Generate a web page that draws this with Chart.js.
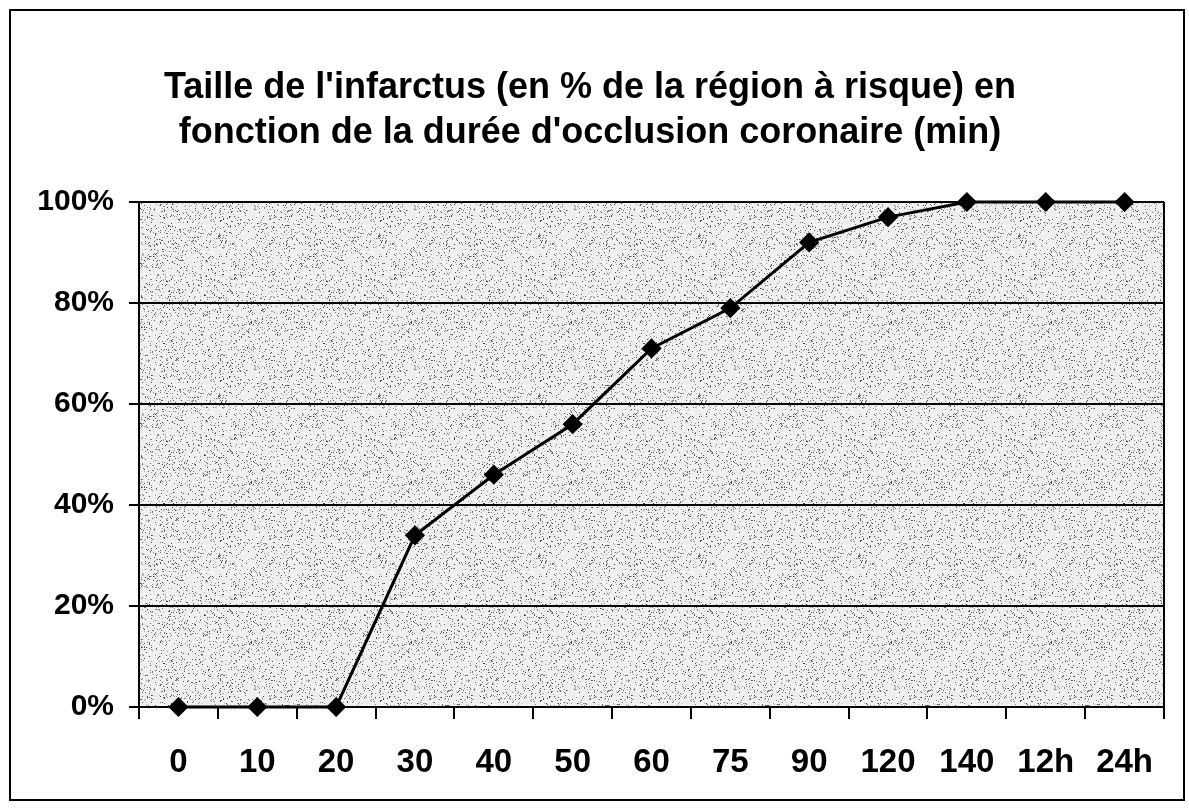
<!DOCTYPE html>
<html>
<head>
<meta charset="utf-8">
<script src="https://cdn.jsdelivr.net/npm/chart.js@4"></script>
<style>
html,body{margin:0;padding:0;background:#fff;}
#wrap{width:1189px;height:812px;position:relative;}
</style>
</head>
<body>
<div id="wrap"><canvas id="c" width="1189" height="812"></canvas></div>
<script>
const titleLines = ["Taille de l'infarctus (en % de la région à risque) en", "fonction de la durée d'occlusion coronaire (min)"];
const categories = ["0","10","20","30","40","50","60","75","90","120","140","12h","24h"];
const infarctSize = [0,0,0,0.34,0.46,0.56,0.71,0.79,0.92,0.97,1.00,1.00,1.00];
const yTicks = [0,0.2,0.4,0.6,0.8,1.0];

function makePattern(ctx){
  const pc = document.createElement('canvas');
  pc.width = 160; pc.height = 160;
  const p = pc.getContext('2d');
  p.fillStyle = '#eeeeee';
  p.fillRect(0,0,160,160);
  let s = 12345;
  function rnd(){ s = (s*1103515245 + 12345) & 0x7fffffff; return s/0x7fffffff; }
  for(let i=0;i<3200;i++){
    const x = Math.floor(rnd()*160), y = Math.floor(rnd()*160);
    const g = 60 + Math.floor(rnd()*120);
    p.fillStyle = 'rgb('+g+','+g+','+g+')';
    p.fillRect(x,y,1,1);
  }
  for(let i=0;i<2500;i++){
    const x = Math.floor(rnd()*160), y = Math.floor(rnd()*160);
    p.fillStyle = '#ffffff';
    p.fillRect(x,y,1,1);
  }
  return ctx.createPattern(pc,'repeat');
}

const bgPlugin = {
  id:'bg',
  beforeDraw(chart){
    const {ctx, chartArea:a} = chart;
    ctx.save();
    ctx.fillStyle = '#fff';
    ctx.fillRect(0,0,chart.width,chart.height);
    ctx.fillStyle = makePattern(ctx);
    ctx.fillRect(a.left,a.top,a.right-a.left,a.bottom-a.top);
    ctx.restore();
  },
  afterDraw(chart){
    const {ctx, chartArea:a} = chart;
    ctx.save();
    ctx.strokeStyle='#000';
    ctx.lineWidth=2;
    ctx.beginPath();
    ctx.moveTo(a.right,a.top); ctx.lineTo(a.right,a.bottom);
    ctx.stroke();
    ctx.strokeRect(10,10,1174,790);
    ctx.restore();
  }
};

new Chart(document.getElementById('c'), {
  type:'line',
  data:{
    labels:categories,
    datasets:[{
      data:infarctSize,
      borderColor:'#000',
      borderWidth:3,
      backgroundColor:'#000',
      pointStyle:'rectRot',
      pointRadius:8,
      pointHoverRadius:8,
      tension:0,
      clip:false
    }]
  },
  options:{
    responsive:false,
    animation:false,
    devicePixelRatio:1,
    layout:{padding:{left:16,right:25,top:0,bottom:0}},
    plugins:{
      legend:{display:false},
      tooltip:{enabled:false},
      title:{
        display:true,
        text:titleLines,
        color:'#000',
        font:{family:'"Liberation Sans", Arial, sans-serif',size:36,weight:'bold',lineHeight:1.25},
        padding:{top:66,bottom:46}
      }
    },
    scales:{
      x:{
        offset:true,
        grid:{offset:true,drawOnChartArea:false,color:'#000',lineWidth:2,tickLength:12,tickColor:'#000'},
        border:{color:'#000',width:2},
        ticks:{color:'#000',font:{family:'"Liberation Sans", Arial, sans-serif',size:33,weight:'bold'},padding:24,maxRotation:0,autoSkip:false},
        afterFit(s){ s.height = 105; }
      },
      y:{
        min:0,max:1,
        afterBuildTicks(s){ s.ticks = yTicks.map(v=>({value:v})); },
        grid:{color:'#000',lineWidth:2,tickLength:10,tickColor:'#000'},
        border:{color:'#000',width:2},
        ticks:{color:'#000',font:{family:'"Liberation Sans", Arial, sans-serif',size:30,weight:'bold'},padding:15,
          callback:(v)=>Math.round(v*100)+'%'},
        afterFit(s){ s.width = 123; }
      }
    }
  },
  plugins:[bgPlugin]
});
</script>
</body>
</html>
